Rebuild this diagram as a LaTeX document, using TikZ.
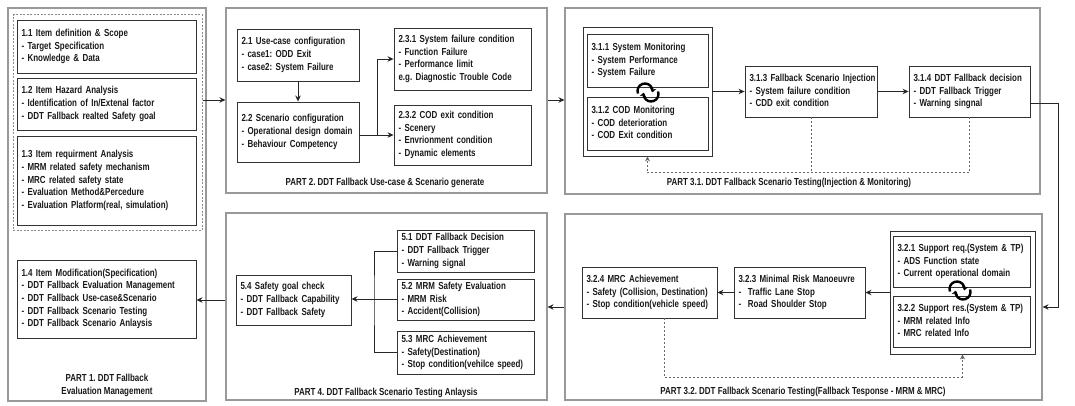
\documentclass[tikz,border=0pt]{standalone}
\usepackage{fontspec}
\setmainfont{Liberation Sans}[FakeStretch=0.78, BoldFont={Liberation Sans Bold}, BoldFeatures={FakeStretch=0.78}]
\usetikzlibrary{arrows.meta}
\frenchspacing
\newcommand\boxnode[7][bx]{%
  \pgfmathsetmacro\bw{#5-#3}\pgfmathsetmacro\bh{#6-#4}\pgfmathsetmacro\tw{#5-#3-9}%
  \pgfmathsetmacro\cx{(#3+#5)/2}\pgfmathsetmacro\cy{(#4+#6)/2}%
  \node[#1,minimum width=\bw pt,minimum height=\bh pt,text width=\tw pt] (#2) at (\cx,\cy) {#7};}
\newcommand\lines[1]{{\renewcommand\arraystretch{1}\setlength\tabcolsep{0pt}\begin{tabular}{@{}l@{}}#1\end{tabular}}}
\begin{document}
\begin{tikzpicture}[x=1pt,y=-1pt,
  every node/.style={font=\fontsize{10.2}{12.6}\selectfont\bfseries, text=black!90},
  bx/.style={draw=black!80, line width=0.9pt, rectangle, inner xsep=4.5pt, inner ysep=0pt, align=left},
  part/.style={draw=black!40, line width=1.1pt, rectangle, inner sep=0pt},
  grp/.style={draw=black!80, line width=0.9pt, rectangle, inner sep=0pt},
  dbox/.style={draw=black!45, line width=1pt, dash pattern=on 2pt off 1.5pt, rectangle, inner sep=0pt},
  ttl/.style={align=center, inner sep=0pt},
  arr/.style={draw=black!85, line width=0.9pt, -{Stealth[length=6pt,width=5.5pt]}},
  ln/.style={draw=black!85, line width=0.9pt},
  dsh/.style={draw=black!60, line width=1pt, dash pattern=on 2pt off 2pt},
  cyc/.style={draw=black, line width=2.4pt, -{Stealth[length=4pt,width=6.5pt]}}]
\useasboundingbox (0,0) rectangle (1075,406);
% ---------- PART 1
\boxnode[part]{P1}{8}{8}{206}{401}{}
\boxnode[dbox]{D1}{13}{15}{202}{230}{}
\boxnode{b11}{17}{20}{196}{73}{\lines{1.1 Item definition \& Scope\\- Target Specification\\- Knowledge \& Data}}
\boxnode{b12}{17}{78}{196}{130}{\lines{1.2 Item Hazard Analysis\\- Identification of In/Extenal factor\\- DDT Fallback realted Safety goal}}
\boxnode{b13}{17}{136}{196}{225}{\lines{1.3 Item requirment Analysis\\- MRM related safety mechanism\\- MRC related safety state\\- Evaluation Method\&Percedure\\- Evaluation Platform(real, simulation)}}
\boxnode{b14}{17}{260}{196}{338}{\lines{1.4 Item Modification(Specification)\\- DDT Fallback Evaluation Management\\- DDT Fallback Use-case\&Scenario\\- DDT Fallback Scenario Testing\\- DDT Fallback Scenario Anlaysis}}
\node[ttl] (t1) at (107,385.5) {PART 1. DDT Fallback\\Evaluation Management};
% ---------- PART 2
\boxnode[part]{P2}{226}{8}{547}{193}{}
\boxnode{b21}{237}{29}{359}{81}{\lines{2.1 Use-case configuration\\- case1: ODD Exit\\- case2: System Failure}}
\boxnode{b22}{237}{102}{359}{162}{\lines{2.2 Scenario configuration\\- Operational design domain\\- Behaviour Competency}}
\boxnode{b231}{394}{28}{531}{90}{\lines{2.3.1 System failure condition\\- Function Failure\\- Performance limit\\e.g. Diagnostic Trouble Code}}
\boxnode{b232}{394}{105}{531}{165}{\lines{2.3.2 COD exit condition\\- Scenery\\- Envrionment condition\\- Dynamic elements}}
\node[ttl] (t2) at (385,183) {PART 2. DDT Fallback Use-case \& Scenario generate};
% ---------- PART 3.1
\boxnode[part]{P31}{565}{8}{1040}{194}{}
\boxnode[grp]{g31}{583}{27}{712}{156}{}
\boxnode{b311}{587}{34}{708}{87}{\lines{3.1.1 System Monitoring\\- System Performance\\- System Failure}}
\boxnode{b312}{587}{97}{708}{150}{\lines{3.1.2 COD Monitoring\\- COD deterioration\\- COD Exit condition}}
\boxnode{b313}{745}{66}{877}{117}{\lines{3.1.3 Fallback Scenario Injection\\- System failure condition\\- CDD exit condition}}
\boxnode{b314}{909}{66}{1030}{117}{\lines{3.1.4 DDT Fallback decision\\- DDT Fallback Trigger\\- Warning singnal}}
\node[ttl] (t31) at (789,183) {PART 3.1. DDT Fallback Scenario Testing(Injection \& Monitoring)};
% ---------- PART 3.2
\boxnode[part]{P32}{565}{214}{1042}{400}{}
\boxnode[grp]{g32}{890}{231}{1035}{354}{}
\boxnode{b321}{893}{236}{1030}{287}{\lines{3.2.1 Support req.(System \& TP)\\- ADS Function state\\- Current operational domain}}
\boxnode{b322}{893}{296}{1030}{347}{\lines{3.2.2 Support res.(System \& TP)\\- MRM related Info\\- MRC related Info}}
\boxnode{b323}{734}{267}{865}{318}{\lines{3.2.3 Minimal Risk Manoeuvre\\-\ \ Traffic Lane Stop\\-\ \ Road Shoulder Stop}}
\boxnode{b324}{582}{267}{717}{318}{\lines{3.2.4 MRC Achievement\\- Safety (Collision, Destination)\\- Stop condition(vehicle speed)}}
\node[ttl] (t32) at (803,392) {PART 3.2. DDT Fallback Scenario Testing(Fallback Tesponse - MRM \& MRC)};
% ---------- PART 4
\boxnode[part]{P4}{226}{213}{547}{400}{}
\boxnode{b51}{397}{230}{534}{272}{\lines{5.1 DDT Fallback Decision\\- DDT Fallback Trigger\\- Warning signal}}
\boxnode{b52}{397}{279}{534}{320}{\lines{5.2 MRM Safety Evaluation\\- MRM Risk\\- Accident(Collision)}}
\boxnode{b53}{397}{331}{534}{374}{\lines{5.3 MRC Achievement\\- Safety(Destination)\\- Stop condition(vehilce speed)}}
\boxnode{b54}{236}{275}{351}{325}{\lines{5.4 Safety goal check\\- DDT Fallback Capability\\- DDT Fallback Safety}}
\node[ttl] (t4) at (386,393) {PART 4. DDT Fallback Scenario Testing Anlaysis};
% ---------- connectors
\draw[arr] (D1.east |- 0,100) -- (P2.west |- 0,100);
\draw[arr] (b21) -- (b22);
\coordinate (j2) at (377,135);
\draw[ln] (b22.east |- j2) -- (j2);
\draw[arr] (j2) -- (b232.west |- j2);
\draw[arr] (j2) |- (b231.west);
\draw[arr] (P2.east |- 0,100) -- (P31.west |- 0,100);
\draw[arr] (g31) -- (b313);
\draw[arr] (b313) -- (b314);
\coordinate (d31) at (647.5,173);
\draw[dsh] (b313.south) -- (b313.south |- d31);
\draw[dsh,-{Stealth[length=5pt,width=5pt]}] (b314.south) |- (d31) -- (g31.south);
\coordinate (r1) at (1058,103);
\coordinate (r2) at (1058,307);
\draw[arr] (b314.east |- r1) -- (r1) -- (r2) -- (P32.east |- r2);
\draw[arr] (g32) -- (b323);
\draw[arr] (b323) -- (b324);
\coordinate (d32) at (664,377);
\draw[dsh,-{Stealth[length=5pt,width=5pt]}] (b324.south -| d32) -- (d32) -| (g32.south);
\draw[arr] (P32.west |- r2) -- (P4.east |- r2);
\coordinate (j4) at (374,299);
\draw[ln] (b51.west) -| (j4) |- (b53.west);
\draw[ln] (b52.west |- j4) -- (j4);
\draw[arr] (j4) -- (b54.east |- j4);
\draw[arr] (P4.west |- 0,300) -- (b14.east |- 0,300);
% ---------- cycle arrows
\coordinate (c1) at (645,91);
\coordinate (c2) at (651,94);
\draw[cyc] ([shift={(160:7.5)}]c1) arc[start angle=160, end angle=370, radius=7.5];
\draw[cyc] ([shift={(-20:7.5)}]c2) arc[start angle=-20, end angle=190, radius=7.5];
\coordinate (c3) at (957,289);
\coordinate (c4) at (963,292);
\draw[cyc] ([shift={(160:7.5)}]c3) arc[start angle=160, end angle=370, radius=7.5];
\draw[cyc] ([shift={(-20:7.5)}]c4) arc[start angle=-20, end angle=190, radius=7.5];
\end{tikzpicture}
\end{document}
